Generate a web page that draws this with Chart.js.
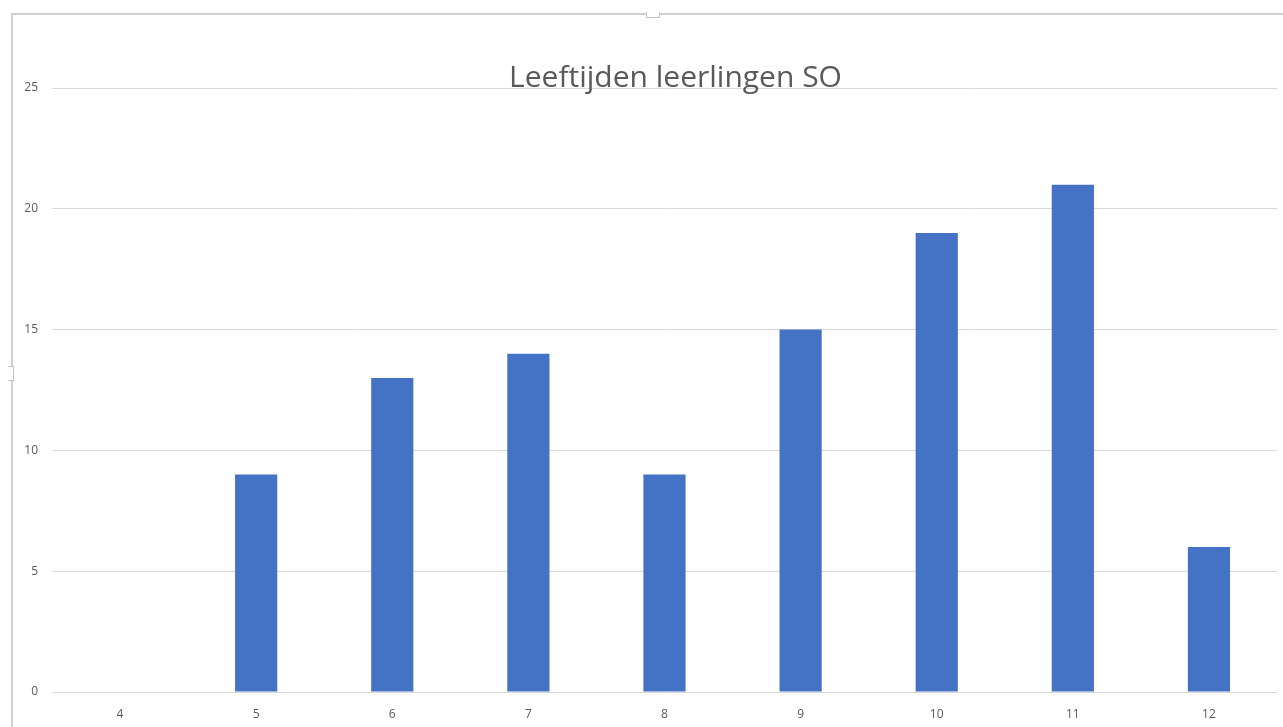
<!DOCTYPE html>
<html>
<head>
<meta charset="utf-8">
<title>Leeftijden leerlingen SO</title>
<script src="https://cdn.jsdelivr.net/npm/chart.js@4"></script>
<style>
    html, body { margin: 0; padding: 0; background: #ffffff; }
    #wrap { position: relative; width: 1283px; height: 727px; overflow: hidden; }
    #chart { position: absolute; left: 0; top: 0; }
    /* frame of the selected chart object */
    .frame { position: absolute; left: 11px; top: 13px; right: 0; bottom: 0;
             border-top: 2px solid #d0d0d0; border-left: 2px solid #d0d0d0; pointer-events: none; }
    .handle { position: absolute; background: #ffffff; border: 1px solid #c4c4c4; pointer-events: none; }
</style>
</head>
<body>
<div id="wrap">
    <canvas id="chart" width="1283" height="727"></canvas>
    <div class="frame"></div>
    <div class="handle" style="left:646px; top:12px; width:12px; height:5px; border-top:none;"></div>
    <div class="handle" style="left:8px; top:366px; width:5px; height:13px; border-left:none;"></div>
</div>
<script>
// ages (categories) and number of pupils per age
const ages = ["4", "5", "6", "7", "8", "9", "10", "11", "12"];
const pupils = [0, 9, 13, 14, 9, 15, 19, 21, 6];
const yTicks = [0, 5, 10, 15, 20, 25];

const labelColor = "#595959";
const gridColor = "#d9d9d9";

// nudge the title box a little to the right, the original title sits off-centre
const titleNudge = {
    id: "titleNudge",
    afterLayout: (chart) => {
        if (chart.titleBlock) chart.titleBlock.left += 22;
    }
};

new Chart(document.getElementById("chart"), {
    type: "bar",
    data: {
        labels: ages,
        datasets: [{
            label: "Leerlingen",
            data: pupils,
            backgroundColor: "#4472c4",
            borderWidth: 0,
            categoryPercentage: 1,
            barPercentage: 0.31
        }]
    },
    options: {
        responsive: false,
        animation: false,
        layout: { padding: { left: 0, right: 6, top: 0, bottom: 0 } },
        plugins: {
            legend: { display: false },
            tooltip: { enabled: false },
            title: {
                display: true,
                fullSize: false, // centre over the plot area, like the original
                text: "Leeftijden leerlingen SO",
                color: labelColor,
                font: { family: "'Open Sans', sans-serif", size: 30, weight: "normal" },
                padding: { top: 60, bottom: -8 }
            }
        },
        scales: {
            x: {
                grid: { display: false },
                border: { display: false },
                ticks: {
                    color: labelColor,
                    font: { family: "'Open Sans', sans-serif", size: 12 },
                    padding: 7
                },
                afterFit: (scale) => { scale.height = 35; }
            },
            y: {
                min: 0,
                max: 25,
                afterBuildTicks: (scale) => { scale.ticks = yTicks.map(v => ({ value: v })); },
                grid: { color: gridColor, lineWidth: 1, drawTicks: false },
                border: { display: false },
                ticks: {
                    color: labelColor,
                    font: { family: "'Open Sans', sans-serif", size: 12 },
                    padding: 14
                },
                afterFit: (scale) => { scale.width = 52; }
            }
        }
    },
    plugins: [titleNudge]
});
</script>
</body>
</html>
